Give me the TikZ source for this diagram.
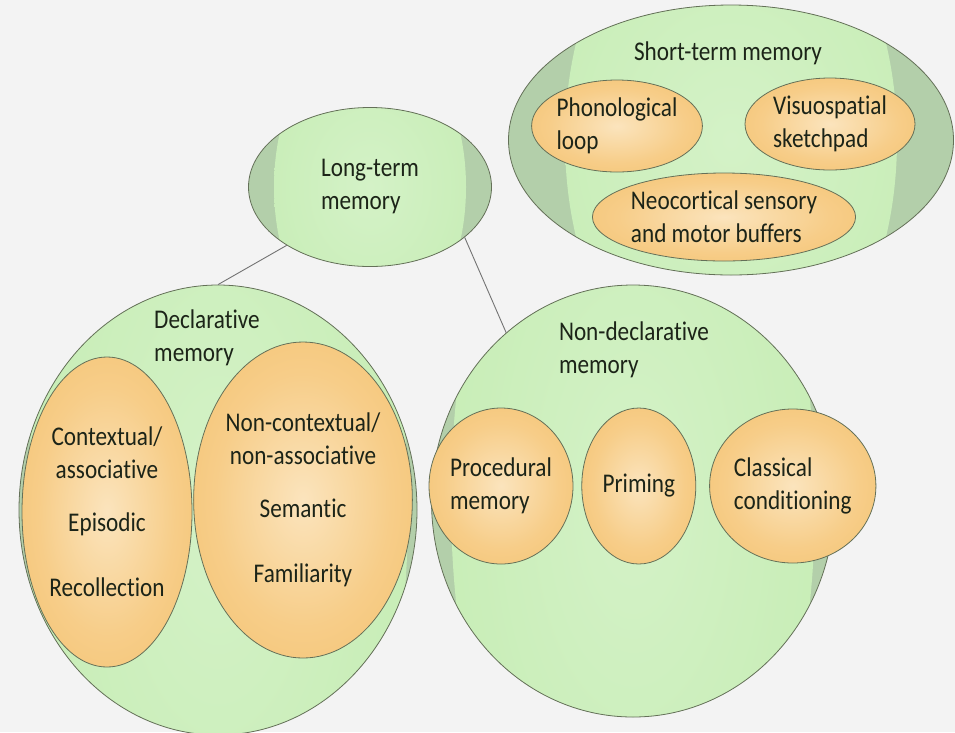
\documentclass[tikz,border=0pt]{standalone}
\usepackage{fontspec}
\setmainfont{Carlito}[FakeStretch=0.86,Ligatures=NoCommon]
\usetikzlibrary{positioning,shapes.geometric}

\definecolor{paper}{HTML}{F3F3F3}
\definecolor{sage}{HTML}{B3CFAA}
\definecolor{leaf}{HTML}{BDE9A8}
\definecolor{leaflight}{HTML}{D4F2C7}
\definecolor{peach}{HTML}{F4BE66}
\definecolor{peachlight}{HTML}{FBE4BD}
\definecolor{rim}{HTML}{647058}
\definecolor{ink}{HTML}{1C2418}

\pgfdeclareradialshading{leafglow}{\pgfpointorigin}{color(0bp)=(leaflight); color(18bp)=(leaflight!60!leaf); color(50bp)=(leaf)}
\pgfdeclareradialshading{peachglow}{\pgfpointorigin}{color(0bp)=(peachlight); color(20bp)=(peachlight!40!peach); color(42bp)=(peach); color(50bp)=(peach)}

\begin{document}
\begin{tikzpicture}[x=1pt,y=-1pt,font=\fontsize{27}{33}\selectfont,text=ink,
                    outer node/.style 2 args={ellipse,draw=rim,fill=sage,line width=0.8pt,inner sep=0pt,
                      path picture={\shade[shading=leafglow] (path picture bounding box.center)
                        ellipse [x radius=#1,y radius=#2];}},
                    inner node/.style={ellipse,draw=rim,line width=0.8pt,shade,shading=peachglow,
                      inner sep=0pt},
                    title/.style={align=left,inner sep=0pt},
                    link/.style={draw=black!55,line width=0.9pt}
                   ]
  \fill[paper] (0,0) rectangle (955,732);
  \useasboundingbox (0,0) rectangle (955,732);

  % big groups
  \node[outer node={96pt}{158pt},minimum width=243pt,minimum height=159pt,align=left] (ltm) at (370,187) {Long-term\\memory};
  \node[outer node={166pt}{270pt},minimum width=445pt,minimum height=270pt] (stm) at (731,140) {};
  \node[outer node={190pt}{450pt},minimum width=398pt,minimum height=450pt] (decl) at (218,510) {};
  \node[outer node={182pt}{430pt},minimum width=403pt,minimum height=432pt] (nondecl) at (633,501) {};

  \node[title] (stmtitle) at (728,53) {Short-term memory};
  \node[title] (decltitle) at (207,338) {Declarative\\memory};
  \node[title] (nondecltitle) at (634,350) {Non-declarative\\memory};

  % short-term parts
  \node[inner node,minimum width=170pt,minimum height=92pt,align=left] (phon) at (617,126) {Phonological\\loop};
  \node[inner node,minimum width=170pt,minimum height=92pt,align=left] (visuo) at (830,124) {Visuospatial\\sketchpad};
  \node[inner node,minimum width=258pt,minimum height=88pt,align=left] (neo) at (724,217) {Neocortical sensory\\and motor buffers};

  % declarative parts
  \node[inner node,minimum width=170pt,minimum height=310pt,align=center] (context) at (107,512)
    {Contextual/\\associative\\[20pt]Episodic\\[32pt]Recollection};
  \node[inner node,minimum width=202pt,minimum height=316pt,align=center] (noncontext) at (303,500)
    {Non-contextual/\\non-associative\\[20pt]Semantic\\[32pt]Familiarity};

  % non-declarative parts
  \node[inner node,minimum width=114pt,minimum height=156pt,align=left] (proc) at (501,486) {Procedural\\memory};
  \node[inner node,minimum width=114pt,minimum height=156pt] (prim) [right=8pt of proc] {Priming};
  \node[inner node,minimum width=134pt,minimum height=154pt,align=left] (class) [right=13pt of prim] {Classical\\conditioning};

  \path[link] (ltm.215) -- (decl.north)
              (ltm.332) -- (nondecl.127);
\end{tikzpicture}
\end{document}
